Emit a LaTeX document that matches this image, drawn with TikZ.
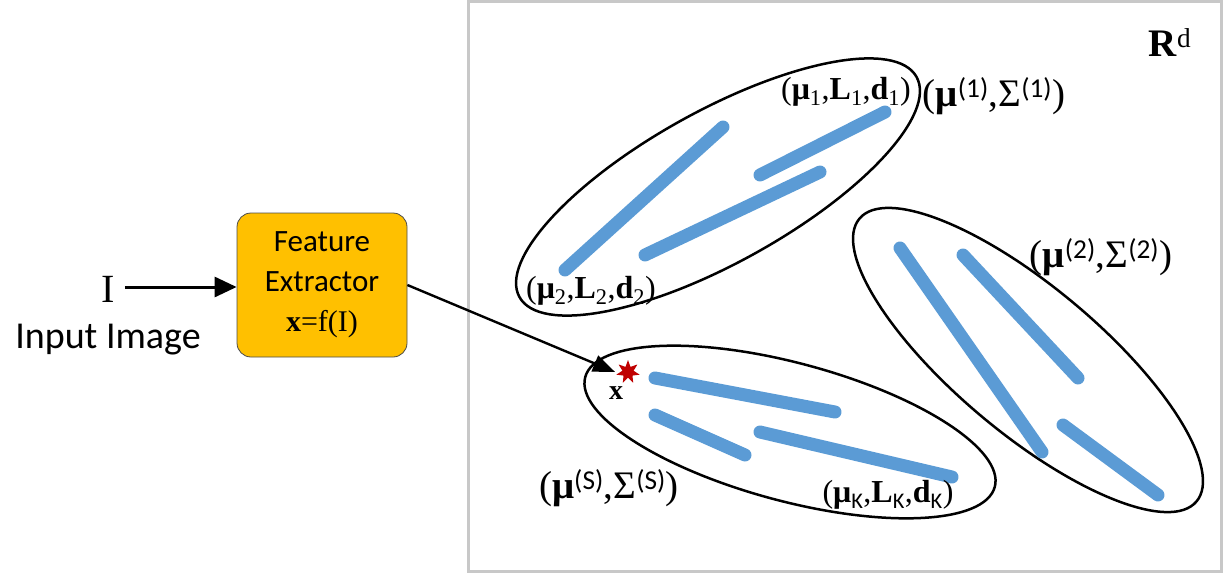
\documentclass[tikz,border=0pt]{standalone}
\usepackage{fontspec}
\setmainfont{Liberation Serif}
\newfontfamily\calibri{Carlito}
\usetikzlibrary{arrows.meta, shapes.geometric}
\definecolor{boxc}{HTML}{FFC000}
\definecolor{strokec}{HTML}{5B9BD5}
\definecolor{framec}{HTML}{C8C8C8}
\definecolor{starc}{HTML}{C00000}
\newcommand{\bmu}{{\bfseries μ}}
\newcommand{\sub}[1]{\textsubscript{#1}}
\newcommand{\ssup}[1]{\textsuperscript{\calibri(#1)}}
\tikzset{
  frame/.style={draw=framec, line width=3pt},
  clus/.style={ellipse, draw=black, line width=2.5pt, inner sep=0pt},
  bar/.style={strokec, line width=13pt, line cap=round},
  fbox/.style={draw=black!70, fill=boxc, rounded corners=14pt, line width=0.8pt,
               minimum width=170pt, minimum height=144pt, align=center,
               font=\calibri\fontsize{31}{40}\selectfont},
  tag/.style={inner sep=0pt, font=\fontsize{32}{34}\selectfont},
  big/.style={inner sep=0pt, font=\fontsize{39}{40}\selectfont},
  arr/.style={-{Triangle[length=22pt,width=20pt]}, line width=3pt},
  thin/.style={-{Triangle[length=22pt,width=17pt]}, line width=2.4pt},
}

\begin{document}
\begin{tikzpicture}[x=1pt, y=-1pt]
\useasboundingbox (0,0) rectangle (1224,573);

% ---------------- input ----------------
\node[inner sep=0pt, font=\fontsize{40}{40}\selectfont] (img) at (108,289) {I};
\node[inner sep=0pt, font=\calibri\fontsize{38}{40}\selectfont] (imgname) at (108,340) {Input Image};
\node[fbox] (fe) at (322,285) {Feature\\Extractor\\{\rmfamily\fontsize{30}{40}\selectfont\textbf{x}=f(I)}};
\coordinate (imgout) at ([xshift=10pt]img.east |- 0,287);
\draw[arr] (imgout) -- (fe.west |- imgout);

% ---------------- feature space ----------------
\draw[frame] (468,1.5) rectangle (1221,571);
\node[inner sep=0pt, font=\fontsize{39}{40}\selectfont] (space) at (1170,43) {\textbf{R}\textsuperscript{d}};

% cluster 1
\node[clus, minimum width=454pt, minimum height=152pt, rotate=29] (cl1) at (718,187) {};
\draw[bar] (565,270) -- (723,127);
\draw[bar] (645,255) -- (820,172);
\draw[bar] (760,175) -- (885,112);
\node[tag] (p1) at (846,92) {(\bmu\sub{1},\textbf{L}\sub{1},\textbf{d}\sub{1})};
\node[tag] (p2) at (591,291) {(\bmu\sub{2},\textbf{L}\sub{2},\textbf{d}\sub{2})};
\node[big] (g1) at (994,96) {(\bmu\ssup{1},Σ\ssup{1})};

% cluster 2
\node[clus, minimum width=440pt, minimum height=146pt, rotate=-40] (cl2) at (1028,360) {};
\draw[bar] (900,248) -- (1042,452);
\draw[bar] (963,255) -- (1078,378);
\draw[bar] (1063,425) -- (1158,495);
\node[big] (g2) at (1101,257) {(\bmu\ssup{2},Σ\ssup{2})};

% cluster S
\node[clus, minimum width=424pt, minimum height=138pt, rotate=-15] (cls) at (790,432) {};
\draw[bar] (655,378) -- (835,412);
\draw[bar] (655,415) -- (745,455);
\draw[bar] (760,432) -- (952,477);
\node[tag] (pk) at (888,495) {(\bmu\textsubscript{\calibri K},\textbf{L}\textsubscript{\calibri K},\textbf{d}\textsubscript{\calibri K})};
\node[big] (gs) at (609,488) {(\bmu\ssup{S},Σ\ssup{S})};

% ---------------- query feature ----------------
\node[star, star points=7, star point ratio=2.1, fill=starc, inner sep=0pt, minimum size=24pt] (xstar) at (628,372) {};
\node[inner sep=0pt, font=\bfseries\fontsize{28}{30}\selectfont] (xlab) at (616,393) {x};
\draw[thin] (fe.east) -- ([xshift=-5pt]xstar.west);

\end{tikzpicture}
\end{document}
